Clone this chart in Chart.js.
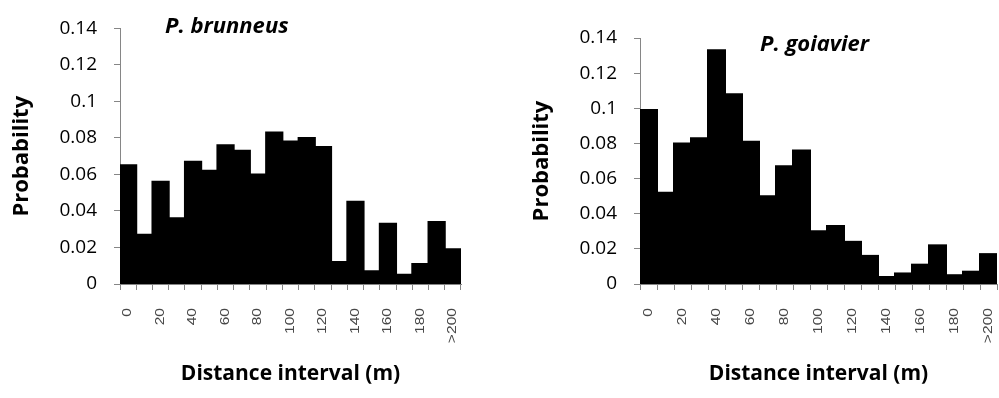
<!DOCTYPE html>
<html>
<head>
<meta charset="utf-8">
<script src="https://cdn.jsdelivr.net/npm/chart.js@4"></script>
<style>
  body { margin: 0; background: #fff; }
  #wrap { position: relative; width: 999px; height: 398px; }
  canvas { position: absolute; top: 0; }
</style>
</head>
<body>
<div id="wrap">
  <canvas id="brunneusChart" width="500" height="398" style="left:0"></canvas>
  <canvas id="goiavierChart" width="499" height="398" style="left:500px"></canvas>
</div>
<script>
// distance bins (m), one bar each
const distLabels = ['0','10','20','30','40','50','60','70','80','90','100',
  '110','120','130','140','150','160','170','180','190','>200'];

const brunneusProb = [0.065, 0.027, 0.056, 0.036, 0.067, 0.062, 0.076, 0.073, 0.060, 0.083, 0.078,
  0.080, 0.075, 0.012, 0.045, 0.007, 0.033, 0.005, 0.011, 0.034, 0.019];

const goiavierProb = [0.099, 0.052, 0.080, 0.083, 0.133, 0.108, 0.081, 0.050, 0.067, 0.076, 0.030,
  0.033, 0.024, 0.016, 0.004, 0.006, 0.011, 0.022, 0.005, 0.007, 0.017];

const yMax = 0.14;
const yStep = 0.02;

const axisGray = '#868686';

// species name written inside the plot, bold italic
const speciesTitle = {
  id: 'speciesTitle',
  afterDraw(chart, args, opts) {
    const ctx = chart.ctx;
    ctx.save();
    ctx.font = 'italic bold 22px "Open Sans"';
    ctx.fillStyle = '#000';
    ctx.textBaseline = 'alphabetic';
    ctx.fillText(opts.text, chart.chartArea.left + opts.dx, opts.y);
    ctx.restore();
  }
};

// x labels read bottom-to-top, every second bin
const rotatedLabels = {
  id: 'rotatedLabels',
  afterDraw(chart) {
    const ctx = chart.ctx;
    const xs = chart.scales.x;
    ctx.save();
    ctx.font = '12px "Liberation Sans"';
    ctx.fillStyle = '#474747';
    ctx.textAlign = 'right';
    ctx.textBaseline = 'middle';
    for (let i = 0; i < distLabels.length; i += 2) {
      const x = xs.getPixelForValue(i);
      ctx.save();
      ctx.translate(x, chart.chartArea.bottom + 24);
      ctx.rotate(-Math.PI / 2);
      ctx.scale(1.3, 1);
      ctx.fillText(distLabels[i], 0, 0);
      ctx.restore();
    }
    ctx.restore();
  }
};

function makeChart(id, values, name, padding, titleDx, titleY) {
  const ctx = document.getElementById(id).getContext('2d');
  return new Chart(ctx, {
    type: 'bar',
    data: {
      labels: distLabels,
      datasets: [{
        data: values,
        backgroundColor: '#000',
        borderWidth: 0,
        inflateAmount: 1,
        barPercentage: 1,
        categoryPercentage: 1
      }]
    },
    options: {
      responsive: false,
      animation: false,
      layout: { padding: padding },
      plugins: {
        legend: { display: false },
        tooltip: { enabled: false },
        speciesTitle: { text: name, dx: titleDx, y: titleY }
      },
      scales: {
        x: {
          grid: { drawOnChartArea: false, color: axisGray, tickLength: 6 },
          border: { color: axisGray },
          ticks: { display: false },
          title: {
            display: true,
            text: 'Distance interval (m)',
            color: '#000',
            font: { family: 'Open Sans', weight: 'bold', size: 21 },
            padding: { bottom: 11 }
          },
          afterFit: s => { s.height = 114; }
        },
        y: {
          min: 0,
          max: yMax,
          grid: { drawOnChartArea: false, color: axisGray, tickLength: 6 },
          border: { color: axisGray },
          ticks: {
            stepSize: yStep,
            padding: 17,
            color: '#000',
            font: { family: 'Open Sans', size: 19 },
            callback: v => String(+v.toFixed(2))
          },
          title: {
            display: true,
            text: 'Probability',
            color: '#000',
            font: { family: 'Open Sans', weight: 'bold', size: 22 },
            padding: { top: 9 }
          },
          afterFit: s => { s.width = 120; }
        }
      }
    },
    plugins: [speciesTitle, rotatedLabels]
  });
}

makeChart('brunneusChart', brunneusProb, 'P. brunneus', { top: 18, right: 39, left: 0, bottom: 0 }, 45, 33);
makeChart('goiavierChart', goiavierProb, 'P. goiavier', { top: 38, right: 2, left: 20, bottom: 0 }, 120, 51);
</script>
</body>
</html>
